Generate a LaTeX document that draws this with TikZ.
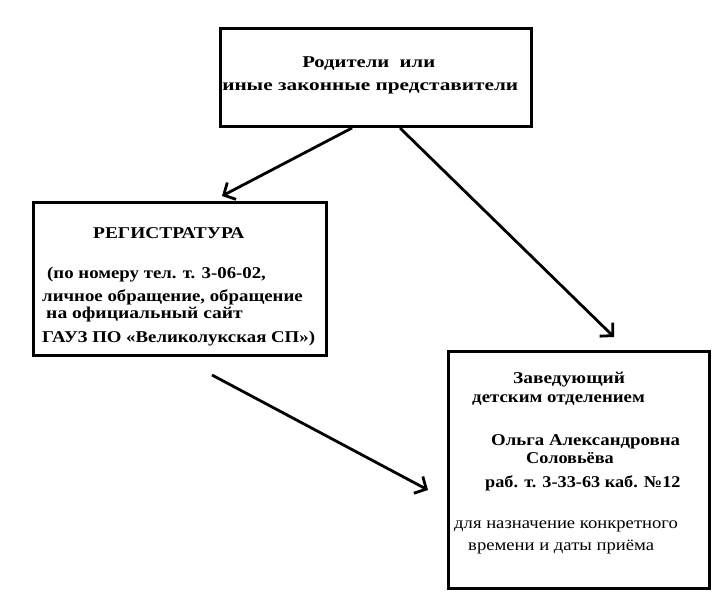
\documentclass[tikz,border=0pt]{standalone}
\usepackage{fontspec}
\setmainfont{Liberation Serif}
\usetikzlibrary{arrows.meta}
\begin{document}
\begin{tikzpicture}[x=1pt,y=-1pt,
  box/.style={draw,line width=2.8pt,inner sep=0pt,anchor=north west},
  bt/.style={font=\bfseries\fontsize{16.5}{19}\selectfont,anchor=base west,inner sep=0pt,xscale=1.14},
  rt/.style={font=\fontsize{16.5}{19}\selectfont,anchor=base west,inner sep=0pt,xscale=1.13},
  conn/.style={line width=2.8pt,-{Straight Barb[length=9pt,width=19pt,line width=2.8pt]}}]
\useasboundingbox (0,0) rectangle (723,602);
% boxes
\node[box,minimum width=311pt,minimum height=98pt] (top) at (219,27) {};
\node[box,minimum width=293pt,minimum height=153pt] (reg) at (32,201) {};
\node[box,minimum width=261pt,minimum height=237pt] (head) at (447,350) {};
% top text
\node[bt,xscale=1.1] (t1) at (302,68) {Родители\ \ или};
\node[bt,xscale=1.13] (t2) at (222,91) {иные законные представители};
% registry text
\node[bt,xscale=1.03] (r1) at (93,238) {РЕГИСТРАТУРА};
\node[bt] (r2) at (47,278) {(по номеру тел. т. 3-06-02,};
\node[bt] (r3) at (42,301) {личное обращение, обращение};
\node[bt,xscale=1.04] (r4) at (46,318) {на официальный сайт};
\node[bt] (r5) at (42,342) {ГАУЗ ПО «Великолукская СП»)};
% head text
\node[bt,xscale=1.03] (h1) at (513,383) {Заведующий};
\node[bt] (h2) at (472,402) {детским отделением};
\node[bt] (h3) at (491,445) {Ольга Александровна};
\node[bt,xscale=0.97] (h4) at (526,463) {Соловьёва};
\node[bt,xscale=0.97] (h5) at (485,487) {раб. т. 3-33-63 каб. №12};
\node[rt] (h6) at (454,528) {для назначение конкретного};
\node[rt] (h7) at (468,550) {времени и даты приёма};
% connector ends
\coordinate (a1s) at (352,128);
\coordinate (a1e) at (222,196);
\coordinate (a2s) at (400,128);
\coordinate (a2e) at (614,337);
\coordinate (a3s) at (212,375);
\coordinate (a3e) at (428,490);
\draw[conn] (a1s) -- (a1e);
\draw[conn] (a2s) -- (a2e);
\draw[conn] (a3s) -- (a3e);
\end{tikzpicture}
\end{document}
